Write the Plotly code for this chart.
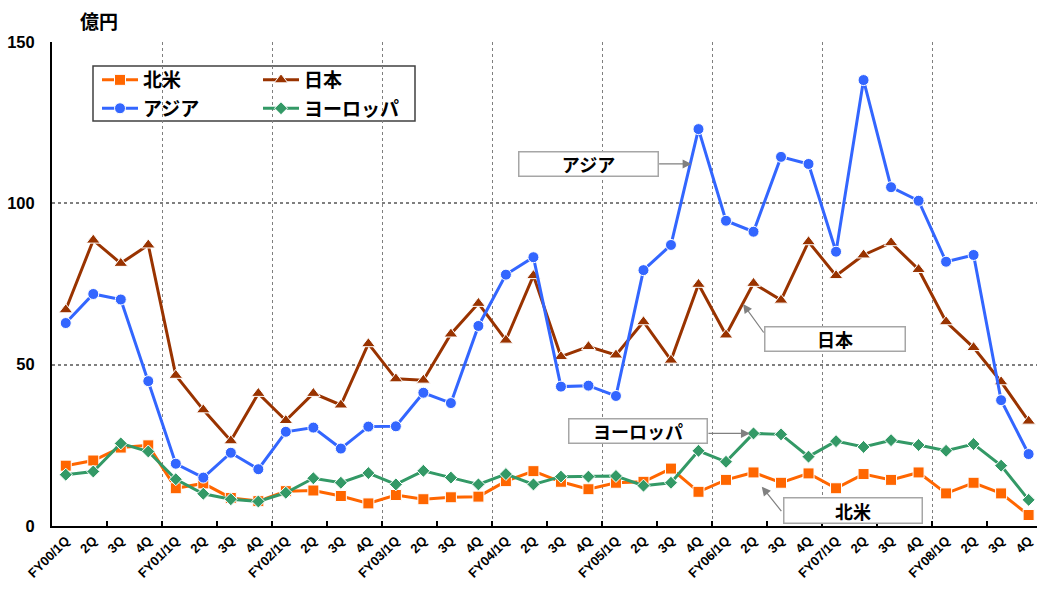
import plotly.graph_objects as go

# Quarterly labels FY00/1Q ... FY08/4Q
years = ["00", "01", "02", "03", "04", "05", "06", "07", "08"]
quarter_labels = []
for yy in years:
    quarter_labels += [f"FY{yy}/1Q", "2Q", "3Q", "4Q"]

# Sales by region (億円)
north_america = [18.7, 20.3, 24.3, 25.0, 11.7, 13.2, 8.7, 7.7, 10.8, 11.0, 9.3, 7.0,
                 9.6, 8.3, 8.9, 9.1, 13.9, 17.0, 13.7, 11.4, 13.4, 13.7, 17.8, 10.6,
                 14.3, 16.6, 13.4, 16.3, 11.7, 16.1, 14.3, 16.6, 10.1, 13.4, 10.1, 3.4]
japan = [67.0, 88.6, 81.4, 87.1, 46.7, 36.0, 26.4, 41.1, 32.7, 41.1, 37.5, 56.5,
         45.6, 45.2, 59.5, 69.0, 57.6, 77.6, 52.5, 55.6, 53.0, 63.3, 51.4, 74.9,
         59.2, 75.2, 70.0, 88.1, 77.6, 84.0, 87.8, 79.5, 63.3, 55.3, 44.7, 32.5]
asia = [62.9, 71.9, 70.2, 44.9, 19.3, 15.0, 22.7, 17.6, 29.2, 30.5, 24.0, 30.8,
        30.9, 41.3, 38.1, 62.0, 77.9, 83.3, 43.2, 43.5, 40.3, 79.3, 87.1, 123.0,
        94.6, 91.2, 114.4, 112.2, 85.0, 138.2, 105.0, 100.8, 81.9, 84.0, 39.0, 22.3]
europe = [15.9, 16.9, 25.6, 23.1, 14.5, 10.0, 8.3, 7.6, 10.3, 14.8, 13.4, 16.4,
          12.9, 17.1, 15.0, 12.9, 16.1, 12.9, 15.3, 15.3, 15.5, 12.5, 13.4, 23.3,
          19.9, 28.7, 28.4, 21.5, 26.3, 24.5, 26.6, 25.1, 23.3, 25.4, 18.7, 8.1]

x_idx = list(range(len(quarter_labels)))

FONT = "Liberation Sans, Arial, Noto Sans CJK JP, sans-serif"
JP_FONT = "Noto Sans CJK JP, Liberation Sans, sans-serif"

# plot-area geometry in pixels
FIG_W, FIG_H = 1037, 593
M_L, M_R, M_T, M_B = 52, 0, 42, 67
PLOT_W = FIG_W - M_L - M_R
PLOT_H = FIG_H - M_T - M_B


def px_x(px):
    return (px - M_L) / PLOT_W


def px_y(py):
    return (M_T + PLOT_H - py) / PLOT_H


series = [
    ("北米", north_america, "#FF6600", "square", 11, "legend"),
    ("日本", japan, "#993300", "triangle-up", 12, "legend2"),
    ("アジア", asia, "#3366FF", "circle", 11, "legend"),
    ("ヨーロッパ", europe, "#339966", "diamond", 10, "legend2"),
]

fig = go.Figure()
for name, vals, color, sym, size, leg in series:
    fig.add_trace(go.Scatter(
        x=x_idx, y=vals, name=name, mode="lines+markers",
        line=dict(color=color, width=3),
        marker=dict(symbol=sym, size=size, color=color,
                    line=dict(color="white", width=1)),
        legend=leg, legendgroup=name,
    ))

# carrier trace for the fiscal-year grid axis
fig.add_trace(go.Scatter(x=[None], y=[None], xaxis="x2", showlegend=False,
                         hoverinfo="skip"))

x_range = [-0.5, -0.5 + PLOT_W / 27.51]
year_bounds = [3.5 + 4 * k for k in range(8)]
tick_bounds = [1.5 + 2 * k for k in range(18)]

legend_common = dict(
    yanchor="top", xanchor="left", y=px_y(61),
    bgcolor="rgba(0,0,0,0)", borderwidth=0, itemwidth=36,
    font=dict(size=19, family=JP_FONT, weight="bold"),
    tracegroupgap=0.7, itemclick=False,
)

fig.update_layout(
    width=FIG_W, height=FIG_H,
    margin=dict(l=M_L, r=M_R, t=M_T, b=M_B),
    paper_bgcolor="white", plot_bgcolor="white",
    font=dict(family=FONT, color="black", weight="bold"),
    xaxis=dict(
        range=x_range, tickmode="array", tickvals=x_idx, ticktext=quarter_labels,
        tickangle=-45, tickfont=dict(size=13, family=FONT, weight="bold"),
        ticks="", showgrid=False, zeroline=False,
        showline=True, linecolor="black", linewidth=2,
        minor=dict(tickmode="array", tickvals=tick_bounds, ticks="inside",
                   ticklen=5, tickwidth=1.5, tickcolor="black", showgrid=False),
    ),
    xaxis2=dict(
        overlaying="x", range=x_range, tickmode="array", tickvals=year_bounds,
        showticklabels=False, ticks="", showgrid=True, gridcolor="#7f7f7f",
        gridwidth=1.3, griddash="dot", zeroline=False, showline=False,
    ),
    yaxis=dict(
        range=[0, 150], tickmode="array", tickvals=[0, 50, 100, 150],
        tickfont=dict(size=16.5, family=FONT, weight="bold"),
        showgrid=True, gridcolor="#7f7f7f", gridwidth=1.5, griddash="dot",
        zeroline=False, showline=True, linecolor="black", linewidth=2,
        ticks="", ticklabelstandoff=12,
    ),
    legend=dict(x=px_x(97), **legend_common),
    legend2=dict(x=px_x(258), **legend_common),
    showlegend=True,
)

# legend frame
fig.add_shape(type="rect", xref="paper", yref="paper",
              x0=px_x(93), x1=px_x(415), y0=px_y(121), y1=px_y(66),
              line=dict(color="#404040", width=1.5), fillcolor="rgba(0,0,0,0)",
              layer="below")

# unit label
fig.add_annotation(text="億円", xref="paper", yref="paper",
                   x=px_x(98.5), y=px_y(20), xanchor="center", yanchor="middle",
                   showarrow=False,
                   font=dict(size=19, family=JP_FONT, weight="bold"))

# callout boxes (label, left, top, right, bottom in px) and their pointers
callouts = [
    ("アジア", 518, 151, 659, 177),
    ("日本", 764, 326, 906, 352),
    ("ヨーロッパ", 568, 418, 708, 444),
    ("北米", 783, 497, 923, 524),
]
for label, x0, y0, x1, y1 in callouts:
    fig.add_annotation(
        text=label, xref="paper", yref="paper",
        x=px_x((x0 + x1) / 2), y=px_y((y0 + y1) / 2),
        xanchor="center", yanchor="middle", showarrow=False,
        width=x1 - x0 - 3, height=y1 - y0 - 3, align="center", valign="middle",
        bgcolor="white", bordercolor="#a6a6a6", borderwidth=1.5, borderpad=0,
        font=dict(size=18, family=JP_FONT, weight="bold"),
    )

# pointer arrows: tip in data coordinates, tail offset in px
pointers = [
    (22.75, 112.2, -33, 0),
    (24.62, 68.8, 21, 29),
    (24.87, 28.7, -42, 0),
    (25.30, 12.2, 20, 25),
]
for tx, ty, ax, ay in pointers:
    fig.add_annotation(
        text="", x=tx, y=ty, xref="x", yref="y", ax=ax, ay=ay,
        showarrow=True, arrowhead=2, arrowsize=1.5, arrowwidth=1.2,
        arrowcolor="#808080", standoff=0, borderpad=0,
    )

fig.write_html("out.html")
